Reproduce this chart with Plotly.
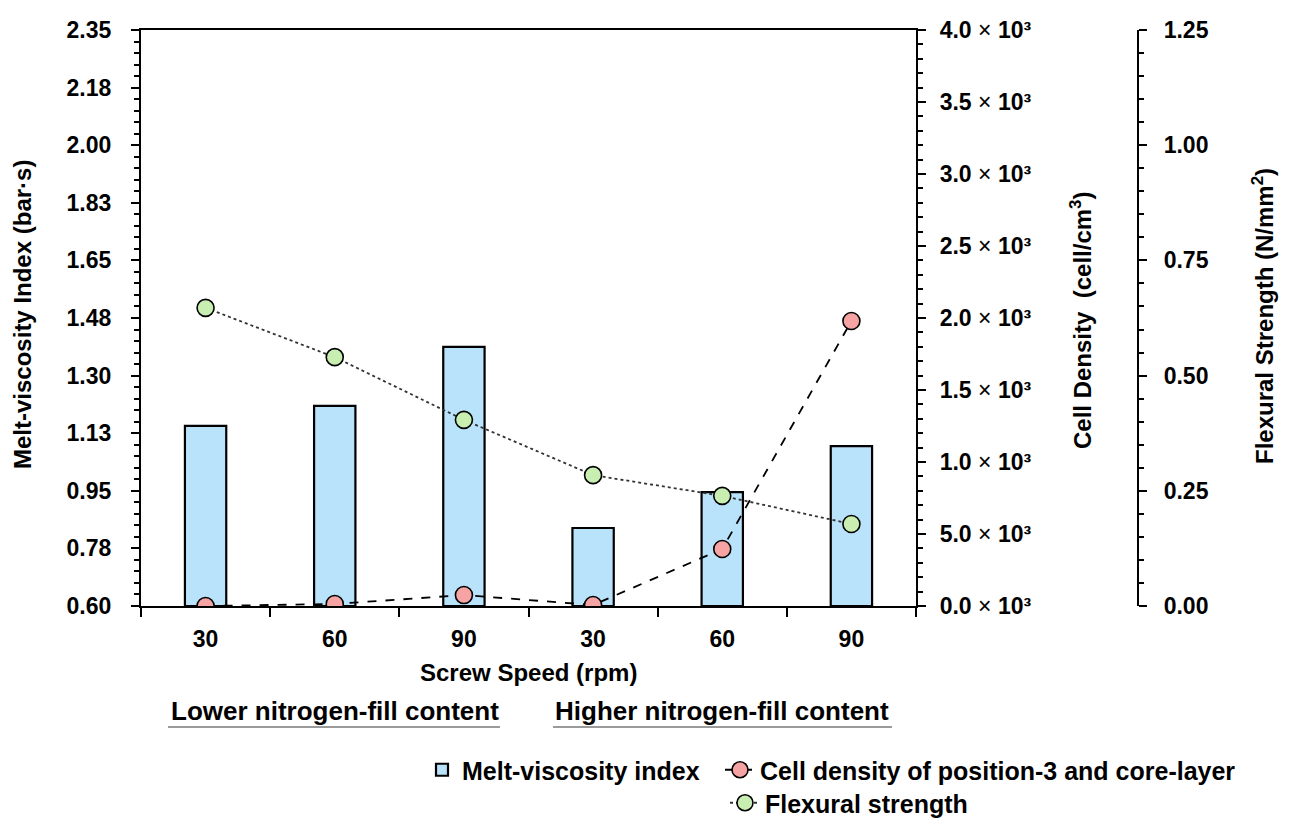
import plotly.graph_objects as go

# ---------------- data ----------------
speeds = ["30", "60", "90", "30", "60", "90"]
melt_viscosity = [1.147, 1.208, 1.387, 0.837, 0.946, 1.086]
cell_density = [0, 14, 76, 7, 396, 1979]
flexural_strength = [0.647, 0.540, 0.404, 0.284, 0.239, 0.178]
group_labels = ["Lower nitrogen-fill content", "Higher nitrogen-fill content"]

visc_tickvals = [0.60, 0.775, 0.95, 1.125, 1.30, 1.475, 1.65, 1.825, 2.00, 2.175, 2.35]
visc_ticktext = ["0.60", "0.78", "0.95", "1.13", "1.30", "1.48", "1.65", "1.83", "2.00", "2.18", "2.35"]
cell_tickvals = [0, 500, 1000, 1500, 2000, 2500, 3000, 3500, 4000]
cell_mantissa = ["0.0", "5.0", "1.0", "1.5", "2.0", "2.5", "3.0", "3.5", "4.0"]
flex_tickvals = [0.0, 0.25, 0.50, 0.75, 1.00, 1.25]
flex_ticktext = ["0.00", "0.25", "0.50", "0.75", "1.00", "1.25"]

# ---------------- styling ----------------
FONT = "Liberation Sans, Arial, sans-serif"
W, H = 1311, 820
xl, xr, yt, yb = 141, 916, 30, 606
flex_axis_x = 1138

def px(x):
    return x / W

def py(y):
    return 1 - y / H

x_idx = list(range(len(speeds)))

fig = go.Figure()

fig.add_trace(go.Bar(
    x=x_idx, y=[v - 0.6 for v in melt_viscosity], base=0.6,
    width=0.32,
    marker=dict(color="#b9e2fb", line=dict(color="black", width=2.2)),
    name="Melt-viscosity index", legend="legend",
    xaxis="x", yaxis="y",
))

fig.add_trace(go.Scatter(
    x=x_idx, y=cell_density, mode="lines+markers",
    line=dict(color="black", width=1.8, dash="dash"),
    marker=dict(symbol="circle", size=17, color="#f6a3a3",
                line=dict(color="black", width=1.6)),
    name="Cell density of position-3 and core-layer", legend="legend2",
    xaxis="x", yaxis="y2",
))

fig.add_trace(go.Scatter(
    x=x_idx, y=flexural_strength, mode="lines+markers",
    line=dict(color="#333333", width=1.8, dash="dot"),
    marker=dict(symbol="circle", size=17, color="#c8eeb2",
                line=dict(color="black", width=1.6)),
    name="Flexural strength", legend="legend3",
    xaxis="x", yaxis="y3",
))

tickfont = dict(family=FONT, size=23, color="black", weight="bold")
legfont = dict(family=FONT, size=25, color="black", weight="bold")

fig.update_layout(
    width=W, height=H,
    margin=dict(l=0, r=0, t=0, b=0, autoexpand=False),
    paper_bgcolor="white", plot_bgcolor="white",
    showlegend=True,
    xaxis=dict(
        domain=[px(xl), px(xr)], range=[-0.5, 5.5],
        tickvals=x_idx, ticktext=speeds, ticks="",
        tickfont=tickfont, ticklabelstandoff=11,
        showline=True, linecolor="black", linewidth=2.2, mirror=True,
        showgrid=False, zeroline=False,
        minor=dict(tick0=-0.5, dtick=1, ticks="outside", ticklen=9,
                   tickwidth=2, tickcolor="black", showgrid=False),
        automargin=False,
    ),
    yaxis=dict(
        domain=[py(yb), py(yt)], range=[0.6, 2.35],
        tickvals=visc_tickvals, ticktext=visc_ticktext,
        ticks="outside", ticklen=8, tickwidth=2, tickcolor="black",
        tickfont=tickfont, ticklabelstandoff=15,
        showline=True, linecolor="black", linewidth=2.2,
        showgrid=False, zeroline=False,
        minor=dict(tick0=0.6, dtick=0.035, ticks="outside", ticklen=5,
                   tickwidth=1.5, tickcolor="black", showgrid=False),
        automargin=False,
    ),
    yaxis2=dict(
        overlaying="y", side="right", anchor="x",
        range=[0, 4000],
        tickvals=cell_tickvals,
        ticktext=[f"{m}<span style='font-weight:normal'> × </span>10³" for m in cell_mantissa],
        ticks="outside", ticklen=8, tickwidth=2, tickcolor="black",
        tickfont=tickfont, ticklabelstandoff=9,
        showline=True, linecolor="black", linewidth=2.2,
        showgrid=False, zeroline=False,
        minor=dict(tick0=0, dtick=100, ticks="outside", ticklen=5,
                   tickwidth=1.5, tickcolor="black", showgrid=False),
        automargin=False,
    ),
    yaxis3=dict(
        overlaying="y", side="right", anchor="free", position=px(flex_axis_x),
        range=[0, 1.25],
        tickvals=flex_tickvals, ticktext=flex_ticktext,
        ticks="outside", ticklen=8, tickwidth=2, tickcolor="black",
        tickfont=tickfont, ticklabelstandoff=12,
        showline=True, linecolor="black", linewidth=2.2,
        showgrid=False, zeroline=False,
        minor=dict(tick0=0, dtick=0.05, ticks="outside", ticklen=5,
                   tickwidth=1.5, tickcolor="black", showgrid=False),
        automargin=False,
    ),
    legend=dict(orientation="h", x=px(422), y=py(770), xanchor="left", yanchor="middle",
                font=legfont, bgcolor="rgba(0,0,0,0)"),
    legend2=dict(orientation="h", x=px(720), y=py(770), xanchor="left", yanchor="middle",
                 font=legfont, bgcolor="rgba(0,0,0,0)"),
    legend3=dict(orientation="h", x=px(725), y=py(803), xanchor="left", yanchor="middle",
                 font=legfont, bgcolor="rgba(0,0,0,0)"),
)

title_font = dict(family=FONT, size=24, color="black", weight="bold")
annotations = [
    dict(text="Melt-viscosity Index (bar·s)", x=px(22), y=py(315), textangle=-90),
    dict(text="Cell Density  (cell/cm<sup>3</sup>)", x=px(1081), y=py(321), textangle=-90),
    dict(text="Flexural Strength (N/mm<sup>2</sup>)", x=px(1263), y=py(316), textangle=-90),
    dict(text="Screw Speed (rpm)", x=px(528), y=py(672), textangle=0),
]
for a in annotations:
    fig.add_annotation(xref="paper", yref="paper", showarrow=False,
                       xanchor="center", yanchor="middle", font=title_font, **a)

group_centers = [335, 722]
group_spans = [(168, 500), (553, 892)]
for label, cx, (a, b) in zip(group_labels, group_centers, group_spans):
    fig.add_annotation(text=label, xref="paper", yref="paper",
                       x=px(cx), y=py(711), showarrow=False,
                       xanchor="center", yanchor="middle",
                       font=dict(family=FONT, size=26, color="black", weight="bold"))
    fig.add_shape(type="line", xref="paper", yref="paper",
                  x0=px(a), x1=px(b), y0=py(727), y1=py(727),
                  line=dict(color="#9a9a9a", width=2))

fig.write_html("out.html")
